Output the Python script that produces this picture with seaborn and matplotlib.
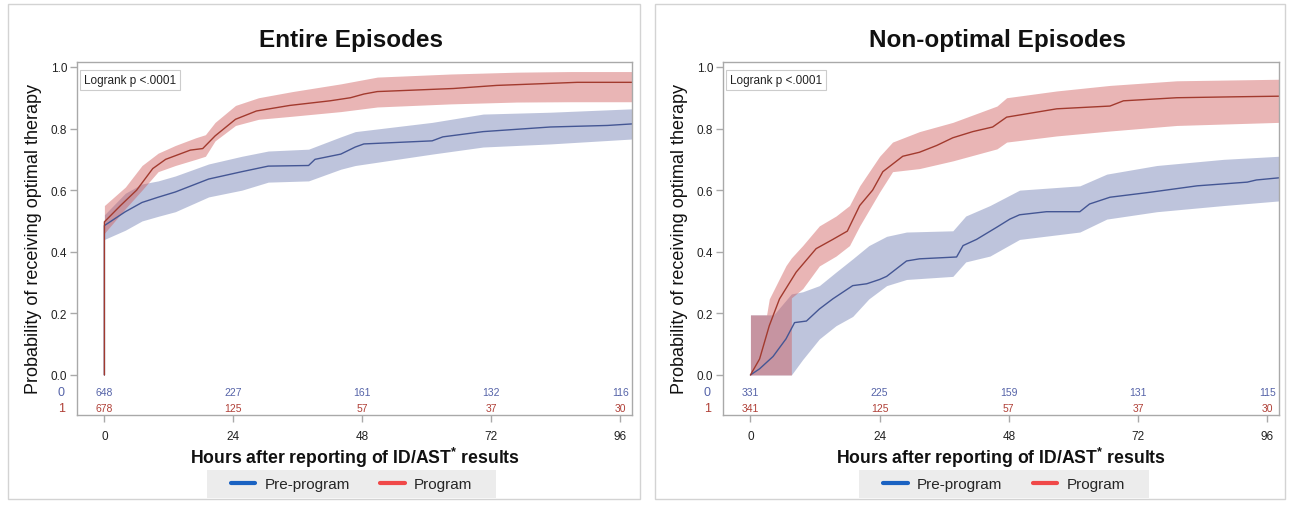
# ==========================================================
# Kaplan-Meier style curves: time to optimal therapy
# Entire episodes vs non-optimal episodes
# ==========================================================

import matplotlib
matplotlib.use("Agg")
import matplotlib.pyplot as plt
import seaborn as sns
from matplotlib.lines import Line2D
from matplotlib.patches import Rectangle

# ==========================================================
# Data
# ==========================================================

hour_ticks = [0, 24, 48, 72, 96]
prob_ticks = [0.0, 0.2, 0.4, 0.6, 0.8, 1.0]
group_names = ["Pre-program", "Program"]
risk_rows = ["0", "1"]

# --- Entire episodes, Program ---
ent_prog_t = [0, 0, 3, 6, 9, 11.4, 16, 18.3, 20.6, 24.4, 28.3, 34.5, 42, 45.8, 48.3, 50.8, 53.7, 65, 73, 80.6, 88, 98.2]
ent_prog_p = [0, 0.497, 0.55, 0.60, 0.67, 0.70, 0.73, 0.735, 0.776, 0.83, 0.857, 0.875, 0.89, 0.90, 0.912, 0.92, 0.922, 0.93, 0.94, 0.945, 0.95, 0.95]
ent_prog_band_t = [0, 3.9, 7, 10, 13.2, 17, 18.8, 20.6, 24.4, 28.7, 35, 44, 50.8, 64.4, 76.8, 86.7, 98.2]
ent_prog_hi = [0.55, 0.61, 0.68, 0.72, 0.745, 0.77, 0.78, 0.82, 0.875, 0.90, 0.92, 0.945, 0.967, 0.977, 0.983, 0.985, 0.985]
ent_prog_lo = [0.46, 0.54, 0.60, 0.66, 0.68, 0.70, 0.71, 0.76, 0.81, 0.83, 0.84, 0.855, 0.87, 0.88, 0.886, 0.887, 0.887]

# --- Entire episodes, Pre-program ---
ent_pre_t = [0, 0, 3.9, 7, 10, 13.2, 19.4, 25.6, 30.5, 38, 39.2, 44, 46.7, 48.3, 61, 63, 70.5, 83, 93.6, 98.2]
ent_pre_p = [0, 0.485, 0.53, 0.56, 0.577, 0.594, 0.636, 0.66, 0.678, 0.68, 0.70, 0.717, 0.74, 0.75, 0.76, 0.773, 0.79, 0.805, 0.81, 0.815]
ent_pre_band_t = [0, 3.9, 7, 10, 13.2, 19.4, 25.6, 30.5, 38, 44, 46.7, 61, 70.5, 83, 98.2]
ent_pre_hi = [0.52, 0.59, 0.62, 0.63, 0.646, 0.685, 0.71, 0.727, 0.733, 0.773, 0.79, 0.82, 0.847, 0.853, 0.864]
ent_pre_lo = [0.44, 0.47, 0.50, 0.515, 0.53, 0.578, 0.60, 0.626, 0.63, 0.668, 0.68, 0.717, 0.74, 0.75, 0.766]

ent_risk_pre = [648, 227, 161, 132, 116]
ent_risk_prog = [678, 125, 57, 37, 30]

# --- Non-optimal episodes, Program ---
non_prog_t = [0, 1.7, 3.5, 5.4, 8.5, 12.2, 15.3, 18, 20.3, 22.7, 24.6, 28.3, 31.4, 34.6, 37.6, 41.3, 45, 47.6, 56.9, 66.8, 69.3, 79.2, 90, 98.2]
non_prog_p = [0, 0.052, 0.16, 0.247, 0.334, 0.41, 0.44, 0.467, 0.55, 0.60, 0.66, 0.71, 0.723, 0.745, 0.77, 0.79, 0.805, 0.837, 0.864, 0.873, 0.89, 0.90, 0.903, 0.905]
non_prog_band_t = [0, 3, 3.5, 6.6, 7.6, 7.6, 9.7, 12.8, 15.9, 18.4, 20.3, 24, 26.4, 31.4, 37.6, 45.8, 47.6, 56.9, 66.8, 79.2, 98.2]
non_prog_hi = [0.195, 0.195, 0.247, 0.355, 0.38, 0.38, 0.42, 0.484, 0.516, 0.55, 0.614, 0.71, 0.756, 0.79, 0.82, 0.873, 0.90, 0.922, 0.94, 0.955, 0.96]
non_prog_lo = [0, 0, 0, 0, 0, 0.25, 0.28, 0.354, 0.386, 0.42, 0.484, 0.594, 0.66, 0.67, 0.695, 0.734, 0.756, 0.776, 0.792, 0.81, 0.82]

# --- Non-optimal episodes, Pre-program ---
non_pre_t = [0, 1.7, 4.2, 6.6, 8.2, 10.4, 12.8, 15.3, 19, 21.6, 24, 25.3, 29, 31.4, 38.3, 39.5, 42, 45.8, 48.2, 50, 55, 61.2, 63, 66.8, 74.2, 83, 92.3, 94, 98.2]
non_pre_p = [0, 0.02, 0.06, 0.117, 0.17, 0.175, 0.214, 0.247, 0.29, 0.296, 0.31, 0.32, 0.37, 0.377, 0.383, 0.42, 0.44, 0.48, 0.506, 0.52, 0.53, 0.53, 0.555, 0.577, 0.593, 0.614, 0.626, 0.633, 0.64]
non_pre_band_t = [0, 4.3, 7.6, 9.7, 12.8, 15.9, 19, 22, 25.3, 29, 37.6, 40, 44.5, 50, 61.2, 66.2, 75.5, 87.9, 98.2]
non_pre_hi = [0.195, 0.195, 0.263, 0.27, 0.29, 0.334, 0.377, 0.42, 0.45, 0.464, 0.468, 0.516, 0.55, 0.60, 0.614, 0.652, 0.68, 0.70, 0.71]
non_pre_lo = [0, 0, 0, 0.05, 0.117, 0.16, 0.19, 0.247, 0.29, 0.31, 0.32, 0.367, 0.386, 0.44, 0.464, 0.506, 0.53, 0.55, 0.565]

non_risk_pre = [331, 225, 159, 131, 115]
non_risk_prog = [341, 125, 57, 37, 30]

# ==========================================================
# Style
# ==========================================================

sns.set_theme(style="white")
plt.rcParams["font.family"] = ["Liberation Sans", "DejaVu Sans"]
plt.rcParams["mathtext.fontset"] = "custom"
plt.rcParams["mathtext.rm"] = "Liberation Sans:bold"
plt.rcParams["mathtext.it"] = "Liberation Sans:bold"
plt.rcParams["mathtext.bf"] = "Liberation Sans:bold"

BLUE_LINE = "#445694"
RED_LINE = "#A23A2E"
BLUE_FILL = "#6F7EB3"
RED_FILL = "#D05B5B"
BLUE_TEXT = "#5563a8"
RED_TEXT = "#b04038"
SPINE = "#a9a9a9"

W, H = 1290, 506
fig = plt.figure(figsize=(W / 100, H / 100), dpi=100)


def fx(x):
    return x / W


def fy(y):
    return 1 - y / H


# ==========================================================
# One panel
# ==========================================================

def draw_panel(ax, title, pre, prog, risk_pre, risk_prog, panel_x0, panel_x1, legend_x0, legend_x1):
    pre_t, pre_p, pre_bt, pre_lo, pre_hi = pre
    prog_t, prog_p, prog_bt, prog_lo, prog_hi = prog

    # confidence bands
    ax.fill_between(pre_bt, pre_lo, pre_hi, color=BLUE_FILL, alpha=0.45, lw=0)
    ax.fill_between(prog_bt, prog_lo, prog_hi, color=RED_FILL, alpha=0.45, lw=0)

    # curves
    sns.lineplot(x=pre_t, y=pre_p, ax=ax, color=BLUE_LINE, lw=1.0, estimator=None, sort=False)
    sns.lineplot(x=prog_t, y=prog_p, ax=ax, color=RED_LINE, lw=1.0, estimator=None, sort=False)

    ax.set_xlim(-5.1, 98.2)
    ax.set_ylim(-0.13, 1.016)
    ax.set_xticks(hour_ticks)
    ax.set_yticks(prob_ticks)
    ax.set_yticklabels(["%.1f" % v for v in prob_ticks])
    ax.set_xlabel("")
    ax.set_ylabel("")
    ax.tick_params(axis="both", which="both", direction="out", length=5, width=1,
                   color=SPINE, labelsize=8.5, labelcolor="#222222", pad=2,
                   bottom=True, left=True, top=False, right=False)
    ax.tick_params(axis="x", pad=6)
    for s in ax.spines.values():
        s.set_color(SPINE)
        s.set_linewidth(1)
        s.set_visible(True)

    # numbers at risk inside the plot area
    for h, n0, n1 in zip(hour_ticks, risk_pre, risk_prog):
        ax.text(h, -0.055, str(n0), color=BLUE_TEXT, fontsize=7.5, ha="center", va="center")
        ax.text(h, -0.107, str(n1), color=RED_TEXT, fontsize=7.5, ha="center", va="center")
    ytr = ax.get_yaxis_transform()
    ax.text(-0.028, -0.055, risk_rows[0], color=BLUE_TEXT, fontsize=9, ha="center", va="center", transform=ytr)
    ax.text(-0.028, -0.107, risk_rows[1], color=RED_TEXT, fontsize=9, ha="center", va="center", transform=ytr)

    # logrank box
    ax.text(0.012, 0.965, "Logrank p <.0001", transform=ax.transAxes, fontsize=8.5,
            ha="left", va="top", color="#222222",
            bbox=dict(boxstyle="square,pad=0.35", facecolor="white", edgecolor="#cccccc", lw=0.8))

    # labels
    ax.text(-0.079, 0.5, "Probability of receiving optimal therapy", transform=ax.transAxes,
            rotation=90, ha="center", va="center", fontsize=13, color="#111111")
    ax.text(0.5, -0.119, "Hours after reporting of ID/AST$^{*}$ results", transform=ax.transAxes,
            ha="center", va="center", fontsize=12.7, fontweight="bold", color="#111111")

    bb = ax.get_position()
    fig.text((bb.x0 + bb.x1) / 2 - 0.003, fy(40), title, ha="center", va="center",
             fontsize=17.5, fontweight="bold", color="#111111")

    # panel frame
    fig.patches.append(Rectangle((fx(panel_x0), fy(500)), fx(panel_x1 - panel_x0), 495 / H,
                                 transform=fig.transFigure, fill=False, edgecolor="#d3d3d3", lw=1))

    # legend with grey background
    fig.patches.append(Rectangle((fx(legend_x0), fy(499)), fx(legend_x1 - legend_x0), 28 / H,
                                 transform=fig.transFigure, facecolor="#ececec", edgecolor="none"))
    handles = [Line2D([0], [0], color="#1a62c2", lw=3),
               Line2D([0], [0], color="#f04848", lw=3)]
    fig.legend(handles, group_names, loc="center", ncol=2, frameon=False,
               bbox_to_anchor=(fx((legend_x0 + legend_x1) / 2), fy(485)),
               fontsize=11, handlelength=1.6, handletextpad=0.6, columnspacing=2.0)


# ==========================================================
# Build figure
# ==========================================================

ax1 = fig.add_axes([fx(77), fy(416), fx(555), 353 / H])
ax2 = fig.add_axes([fx(723), fy(416), fx(556), 353 / H])

draw_panel(ax1, "Entire Episodes",
           (ent_pre_t, ent_pre_p, ent_pre_band_t, ent_pre_lo, ent_pre_hi),
           (ent_prog_t, ent_prog_p, ent_prog_band_t, ent_prog_lo, ent_prog_hi),
           ent_risk_pre, ent_risk_prog, 8, 640, 207, 496)
draw_panel(ax2, "Non-optimal Episodes",
           (non_pre_t, non_pre_p, non_pre_band_t, non_pre_lo, non_pre_hi),
           (non_prog_t, non_prog_p, non_prog_band_t, non_prog_lo, non_prog_hi),
           non_risk_pre, non_risk_prog, 655, 1285, 859, 1149)

fig.savefig("out.png", dpi=100)
